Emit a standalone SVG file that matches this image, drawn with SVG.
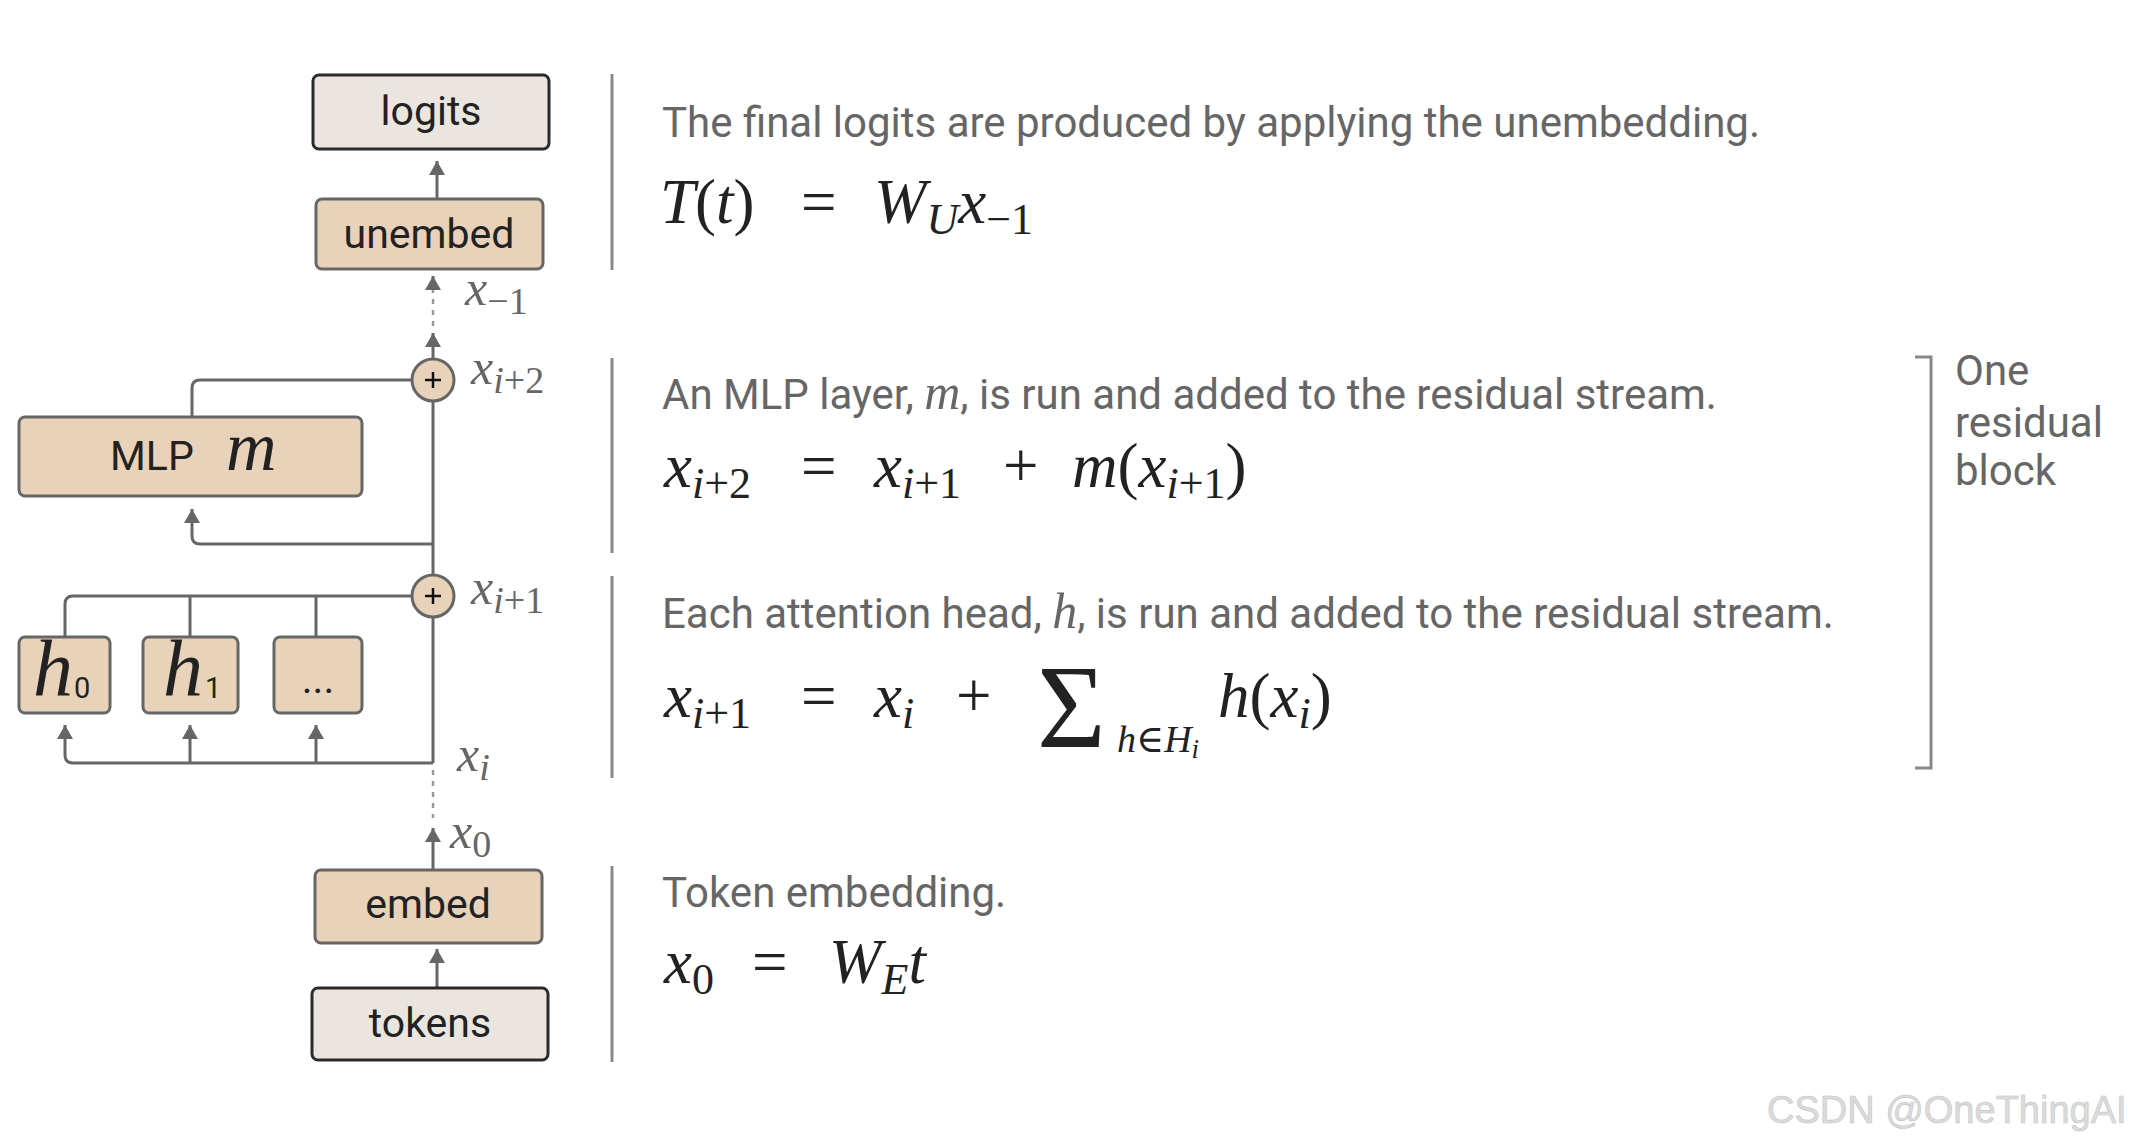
<svg xmlns="http://www.w3.org/2000/svg" width="2130" height="1146" viewBox="0 0 2130 1146">
<defs>
<marker id="ah" markerUnits="userSpaceOnUse" markerWidth="16" markerHeight="16" refX="14" refY="8" orient="auto">
<path d="M0,0 L14,8 L0,16 z" fill="#666"/>
</marker>
<style>
.box-tan{fill:#e9d2ba;stroke:#666;stroke-width:3}
.box-end{fill:#ebe5df;stroke:#2a2a2a;stroke-width:3}
.lbl{font-family:Roboto,"Liberation Sans",sans-serif;font-size:41px;fill:#222;text-anchor:middle}
.conn{fill:none;stroke:#666;stroke-width:3}
.dot{fill:none;stroke:#999;stroke-width:2.5;stroke-dasharray:5 6}
.sum{fill:#e9d2ba;stroke:#666;stroke-width:3}
.plus{stroke:#111;stroke-width:2.5}
.sep{stroke:#888;stroke-width:3}
.desc{font-family:Roboto,"Liberation Sans",sans-serif;font-size:42px;fill:#666}
.math{font-family:"Liberation Serif","DejaVu Serif",serif;font-size:63px;fill:#222}
.gmath{font-family:"Liberation Serif","DejaVu Serif",serif;font-size:50px;fill:#666}
.it{font-style:italic}
</style>
</defs>
<rect width="2130" height="1146" fill="#fff"/>

<g id="connectors">
<path class="conn" d="M437,200 V161" marker-end="url(#ah)"/>
<path class="dot" d="M433,326 V290"/>
<path class="conn" d="M433,290 V276" marker-end="url(#ah)"/>
<path class="conn" d="M433,359 V333" marker-end="url(#ah)"/>
<path class="conn" d="M412,380 H200 Q192,380 192,388 V417"/>
<path class="conn" d="M433,401 V575"/>
<path class="conn" d="M433,544 H200 Q192,544 192,536 V509" marker-end="url(#ah)"/>
<path class="conn" d="M412,596 H73 Q65,596 65,604 V637"/>
<path class="conn" d="M190,596 V637"/>
<path class="conn" d="M316,596 V637"/>
<path class="conn" d="M433,617 V763"/>
<path class="conn" d="M433,763 H73 Q65,763 65,755 V725" marker-end="url(#ah)"/>
<path class="conn" d="M190,763 V725" marker-end="url(#ah)"/>
<path class="conn" d="M316,763 V725" marker-end="url(#ah)"/>
<path class="dot" d="M433,770 V818"/>
<path class="conn" d="M433,870 V828" marker-end="url(#ah)"/>
<path class="conn" d="M437,988 V949" marker-end="url(#ah)"/>
</g>

<g id="logits"><rect class="box-end" x="313" y="75" width="236" height="74" rx="6"/><text class="lbl" x="431" y="125">logits</text></g>
<g id="unembed"><rect class="box-tan" x="316" y="199" width="227" height="70" rx="6"/><text class="lbl" x="429" y="248">unembed</text></g>
<g id="add2"><circle class="sum" cx="433" cy="380" r="21"/><path class="plus" d="M425,380 H441 M433,372 V388"/></g>
<g id="mlp"><rect class="box-tan" x="19" y="417" width="343" height="79" rx="6"/>
<text x="110" y="470" font-family="Roboto,'Liberation Sans',sans-serif" font-size="41" fill="#222">MLP</text>
<text class="math it" x="226" y="470" style="font-size:70px">m</text></g>
<g id="add1"><circle class="sum" cx="433" cy="596" r="21"/><path class="plus" d="M425,596 H441 M433,588 V604"/></g>
<g id="h0"><rect class="box-tan" x="19" y="637" width="91" height="76" rx="6"/>
<text class="math it" x="33" y="695" style="font-size:80px">h</text><text x="74" y="698" font-family="Roboto,'Liberation Sans',sans-serif" font-size="29" fill="#222">0</text></g>
<g id="h1"><rect class="box-tan" x="143" y="637" width="95" height="76" rx="6"/>
<text class="math it" x="163" y="695" style="font-size:80px">h</text><text x="205" y="698" font-family="Roboto,'Liberation Sans',sans-serif" font-size="29" fill="#222">1</text></g>
<g id="hdots"><rect class="box-tan" x="274" y="637" width="88" height="76" rx="6"/><text class="lbl" x="318" y="693">...</text></g>
<g id="embed"><rect class="box-tan" x="315" y="870" width="227" height="73" rx="6"/><text class="lbl" x="428" y="918">embed</text></g>
<g id="tokens"><rect class="box-end" x="312" y="988" width="236" height="72" rx="6"/><text class="lbl" x="430" y="1037">tokens</text></g>

<g id="stream-labels">
<text class="gmath" x="465" y="305"><tspan class="it">x</tspan><tspan font-size="38" dy="9">−1</tspan></text>
<text class="gmath" x="471" y="384"><tspan class="it">x</tspan><tspan font-size="38" dy="9"><tspan class="it">i</tspan>+2</tspan></text>
<text class="gmath" x="471" y="604"><tspan class="it">x</tspan><tspan font-size="38" dy="9"><tspan class="it">i</tspan>+1</tspan></text>
<text class="gmath" x="457" y="771"><tspan class="it">x</tspan><tspan font-size="38" dy="9" class="it">i</tspan></text>
<text class="gmath" x="450" y="848"><tspan class="it">x</tspan><tspan font-size="38" dy="9">0</tspan></text>
</g>

<g id="separators">
<line class="sep" x1="612" y1="74" x2="612" y2="270"/>
<line class="sep" x1="612" y1="358" x2="612" y2="553"/>
<line class="sep" x1="612" y1="576" x2="612" y2="778"/>
<line class="sep" x1="612" y1="866" x2="612" y2="1062"/>
</g>

<g id="text-unembed">
<text class="desc" x="662" y="137">The final logits are produced by applying the unembedding.</text>
<text class="math" y="223"><tspan class="it" x="660">T</tspan>(<tspan class="it">t</tspan>)<tspan x="801">=</tspan><tspan class="it" x="874">W</tspan><tspan class="it" font-size="44" dy="11">U</tspan><tspan class="it" dy="-11">x</tspan><tspan font-size="44" dy="11">−1</tspan></text>
</g>
<g id="text-mlp">
<text class="desc" x="662" y="409">An MLP layer, <tspan class="it" font-family="'Liberation Serif',serif" font-size="50">m</tspan>, is run and added to the residual stream.</text>
<text class="math" y="487"><tspan class="it" x="664">x</tspan><tspan font-size="44" dy="11"><tspan class="it">i</tspan>+2</tspan><tspan x="801" dy="-11">=</tspan><tspan class="it" x="874">x</tspan><tspan font-size="44" dy="11"><tspan class="it">i</tspan>+1</tspan><tspan x="1003" dy="-11">+</tspan><tspan class="it" x="1072">m</tspan>(<tspan class="it">x</tspan><tspan font-size="44" dy="11"><tspan class="it">i</tspan>+1</tspan><tspan dy="-11">)</tspan></text>
</g>
<g id="text-attn">
<text class="desc" x="662" y="628">Each attention head, <tspan class="it" font-family="'Liberation Serif',serif" font-size="50">h</tspan>, is run and added to the residual stream.</text>
<text class="math" y="717"><tspan class="it" x="664">x</tspan><tspan font-size="44" dy="11"><tspan class="it">i</tspan>+1</tspan><tspan x="801" dy="-11">=</tspan><tspan class="it" x="874">x</tspan><tspan font-size="44" dy="11" class="it">i</tspan><tspan x="956" dy="-11">+</tspan></text>
<text class="math" x="1037" y="747" style="font-size:118px;font-weight:300">Σ</text>
<text class="math" y="752" style="font-size:38px"><tspan class="it" x="1117">h</tspan>∈<tspan class="it">H</tspan><tspan class="it" font-size="27" dy="6">i</tspan></text>
<text class="math" y="717"><tspan class="it" x="1218">h</tspan>(<tspan class="it">x</tspan><tspan font-size="44" dy="11" class="it">i</tspan><tspan dy="-11">)</tspan></text>
</g>
<g id="text-embed">
<text class="desc" x="662" y="907">Token embedding.</text>
<text class="math" y="983"><tspan class="it" x="664">x</tspan><tspan font-size="44" dy="11">0</tspan><tspan x="752" dy="-11">=</tspan><tspan class="it" x="829">W</tspan><tspan class="it" font-size="44" dy="11">E</tspan><tspan class="it" dy="-11">t</tspan></text>
</g>

<g id="block-bracket">
<path d="M1915,357 H1931 V768 H1915" fill="none" stroke="#888" stroke-width="3"/>
<text class="desc" x="1955" y="385">One</text>
<text class="desc" x="1955" y="437">residual</text>
<text class="desc" x="1955" y="485">block</text>
</g>

<text x="1767" y="1123" font-family="'Liberation Sans',sans-serif" font-size="38" fill="#dcdcdc" stroke="#c4c4c4" stroke-width="0.6">CSDN @OneThingAI</text>
</svg>
